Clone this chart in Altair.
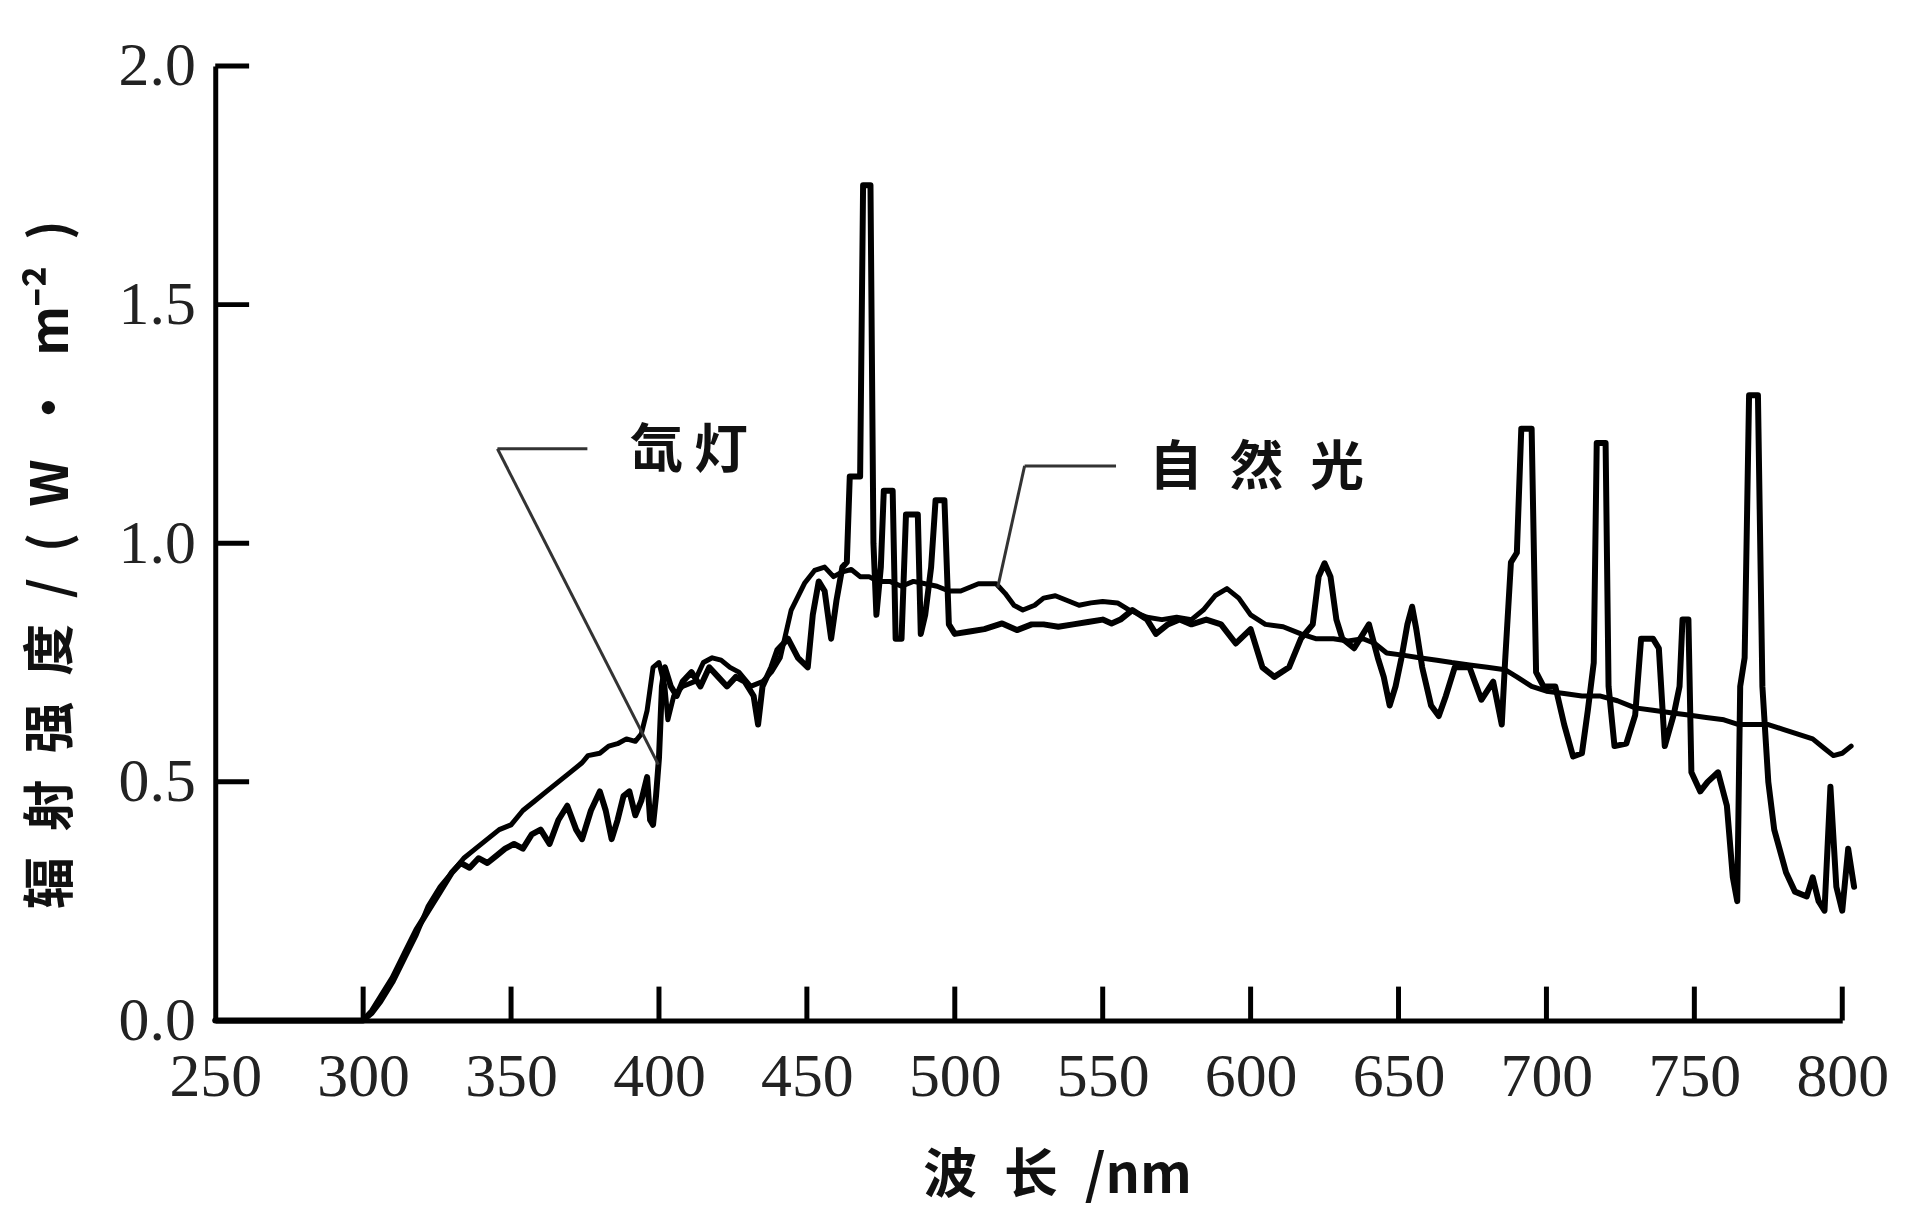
import altair as alt
import pandas as pd

# ---------------- data ----------------
xenon_wl = [250, 298, 300, 303, 306, 310, 314, 318, 322, 326, 330, 333, 336, 339, 342, 345, 348, 351, 354,
            357, 360, 363, 366, 369, 372, 374, 377, 380, 382, 384, 386, 388, 390, 392, 394, 396, 397, 398,
            399, 400, 401, 402, 404, 406, 408, 411, 414, 417, 420, 423, 426, 429, 432, 433.5, 435, 438,
            440, 443.6, 447, 450.3, 452, 454, 456, 458.2, 460, 462, 463.5, 464.5, 468, 469, 471.5, 472.5,
            473.5, 475, 476, 479, 480, 482, 483.5, 487.5, 488.5, 490, 492, 493.5, 496.5, 498, 500, 505,
            510, 516, 521, 526, 530, 535, 540, 545, 550, 553, 556, 560, 565, 568, 572, 576, 580, 585, 590,
            595, 600, 604, 608, 613, 617, 621, 623, 625, 627, 629, 631, 635, 640, 643, 645, 647, 649, 651,
            653, 654.6, 656, 658, 661, 663.6, 666, 669, 674, 678, 682, 684.9, 686, 688, 690, 691.5, 695,
            696.5, 699, 703, 706, 709, 712, 714, 716, 717, 720, 721, 723, 727, 730, 732, 736, 738, 740,
            743, 745, 746, 748, 749, 752, 754.5, 758, 761, 763, 764.5, 765.5, 767, 768.5, 771.5, 773, 775,
            777, 781, 784, 788, 790, 792, 794, 796, 798, 800, 802, 804]
xenon_val = [0, 0, 0.0, 0.02, 0.05, 0.09, 0.14, 0.19, 0.23, 0.27, 0.31, 0.33, 0.32, 0.34, 0.33, 0.345, 0.36,
             0.37, 0.36, 0.39, 0.40, 0.37, 0.42, 0.45, 0.40, 0.38, 0.44, 0.48, 0.44, 0.38, 0.42, 0.47, 0.48,
             0.43, 0.46, 0.51, 0.42, 0.41, 0.47, 0.55, 0.70, 0.74, 0.70, 0.68, 0.71, 0.73, 0.70, 0.74, 0.72,
             0.70, 0.72, 0.71, 0.68, 0.62, 0.70, 0.74, 0.776, 0.80, 0.76, 0.74, 0.85, 0.92, 0.90, 0.80, 0.88,
             0.95, 0.96, 1.14, 1.14, 1.75, 1.75, 1.0, 0.85, 0.95, 1.11, 1.11, 0.80, 0.80, 1.06, 1.06, 0.81,
             0.85, 0.95, 1.09, 1.09, 0.83, 0.81, 0.815, 0.82, 0.832, 0.818, 0.83, 0.83, 0.825, 0.83, 0.835,
             0.84, 0.832, 0.84, 0.86, 0.84, 0.81, 0.83, 0.84, 0.83, 0.84, 0.83, 0.79, 0.82, 0.74, 0.72, 0.74,
             0.80, 0.83, 0.93, 0.958, 0.93, 0.84, 0.80, 0.78, 0.83, 0.76, 0.72, 0.66, 0.70, 0.76, 0.83,
             0.867, 0.82, 0.74, 0.66, 0.638, 0.68, 0.74, 0.74, 0.672, 0.71, 0.62, 0.75, 0.96, 0.98, 1.24,
             1.24, 0.73, 0.70, 0.70, 0.62, 0.553, 0.56, 0.65, 0.75, 1.21, 1.21, 0.70, 0.575, 0.58, 0.64,
             0.80, 0.80, 0.78, 0.575, 0.64, 0.70, 0.84, 0.84, 0.52, 0.48, 0.50, 0.52, 0.45, 0.30, 0.25,
             0.70, 0.76, 1.31, 1.31, 0.70, 0.50, 0.40, 0.31, 0.27, 0.26, 0.30, 0.25, 0.23, 0.49, 0.28,
             0.23, 0.36, 0.28]

natural_wl = [250, 298, 300, 303, 306, 310, 314, 318, 322, 326, 330, 334, 338, 342, 346, 350, 354, 358, 362,
              366, 370, 374, 376, 380, 383, 386, 389, 392, 394, 396, 398, 400, 402, 403, 405, 408, 412, 415,
              418, 421, 424, 427, 431, 435, 438, 441, 444.7, 449.2, 452.6, 456, 459, 462, 465, 468, 471,
              474, 478, 482, 486, 490, 494, 498, 502, 508, 514, 517, 520, 523, 527, 530, 534, 538, 542, 546,
              550, 555, 559, 565, 570, 575, 580, 584, 588, 592, 596, 600, 605, 611, 617, 622, 628, 633, 638,
              642, 646, 652, 657, 663, 668, 674, 680, 686, 690, 695, 700, 706, 712, 718, 724, 730, 736, 742,
              748, 754, 760, 765, 770, 775, 780, 785, 790, 794, 797, 800, 803]
natural_val = [0, 0, 0.0, 0.015, 0.04, 0.08, 0.13, 0.18, 0.24, 0.28, 0.31, 0.34, 0.36, 0.38, 0.40, 0.41,
               0.44, 0.46, 0.48, 0.50, 0.52, 0.54, 0.555, 0.56, 0.575, 0.58, 0.59, 0.585, 0.60, 0.65, 0.74,
               0.75, 0.70, 0.63, 0.68, 0.70, 0.71, 0.75, 0.76, 0.755, 0.74, 0.73, 0.70, 0.71, 0.73, 0.76,
               0.86, 0.916, 0.943, 0.95, 0.93, 0.94, 0.945, 0.93, 0.93, 0.92, 0.92, 0.91, 0.92, 0.915, 0.91,
               0.90, 0.90, 0.915, 0.915, 0.895, 0.87, 0.86, 0.87, 0.885, 0.89, 0.88, 0.87, 0.875, 0.878,
               0.875, 0.86, 0.845, 0.84, 0.845, 0.84, 0.86, 0.89, 0.905, 0.885, 0.85, 0.83, 0.825, 0.81, 0.80,
               0.80, 0.795, 0.80, 0.79, 0.77, 0.765, 0.76, 0.755, 0.75, 0.745, 0.74, 0.735, 0.72, 0.70, 0.69,
               0.685, 0.68, 0.68, 0.67, 0.655, 0.65, 0.645, 0.64, 0.635, 0.63, 0.62, 0.62, 0.62, 0.61, 0.60,
               0.59, 0.57, 0.555, 0.56, 0.575]

x_ticks = [300, 350, 400, 450, 500, 550, 600, 650, 700, 750, 800]
y_ticks = [0.5, 1.0, 1.5, 2.0]

label_text = ["氙\u2009灯", "自\u2002然\u2002光"]
label_x = [410, 602]
label_y = [1.192, 1.155]

# annotation leader lines (start / end in data units)
lead_x1 = [345.4, 345.4, 523.6, 523.6]
lead_y1 = [1.198, 1.198, 1.162, 1.162]
lead_x2 = [375.8, 399.8, 554.5, 514.5]
lead_y2 = [1.198, 0.536, 1.162, 0.907]

# ---------------- chart ----------------
W, H = 1633, 958
FONT_NUM = "Liberation Serif"
FONT_CJK = "Noto Sans CJK SC"
SP = "\u2002"

df_x = pd.DataFrame({"wl": xenon_wl, "v": xenon_val})
df_n = pd.DataFrame({"wl": natural_wl, "v": natural_val})

xs = alt.Scale(domain=[250, 800], nice=False, zero=False)
ys = alt.Scale(domain=[0, 2.0], nice=False, zero=False)

x_axis = alt.Axis(values=[250] + x_ticks, format=".0f", ticks=False, grid=False,
                  domainColor="#000", domainWidth=5, labelFont=FONT_NUM, labelFontSize=62,
                  labelColor="#222", labelPadding=26, labelFlush=False,
                  title="波" + SP + "长" + SP + "/nm", titleFont=FONT_CJK, titleFontSize=54,
                  titleFontWeight="bold", titleColor="#111", titleX=845, titleY=157,
                  titleBaseline="middle", titleAlign="center")
y_axis = alt.Axis(values=[0.0] + y_ticks, format=".1f", ticks=False, grid=False,
                  domainColor="#000", domainWidth=5, labelFont=FONT_NUM, labelFontSize=62,
                  labelColor="#222", labelPadding=20, labelFlush=False, labelBaseline="middle",
                  title=SP.join(["辐", "射", "强", "度", "/", "(", "W", "·", "m⁻²", ")"]),
                  titleFont=FONT_CJK, titleFontSize=52,
                  titleFontWeight="bold", titleColor="#111", titleX=-164, titleY=500,
                  titleBaseline="middle", titleAlign="center", titleAngle=-90)

X = lambda f: alt.X(f, scale=xs, axis=x_axis)
Y = lambda f: alt.Y(f, scale=ys, axis=y_axis)

nat = alt.Chart(df_n).mark_line(color="#000", strokeWidth=5, strokeJoin="round", strokeCap="round").encode(
    x=X("wl:Q"), y=Y("v:Q"))
xen = alt.Chart(df_x).mark_line(color="#000", strokeWidth=6, strokeJoin="round", strokeCap="round").encode(
    x=X("wl:Q"), y=Y("v:Q"))

ytick = alt.Chart(pd.DataFrame({"t": y_ticks})).mark_rule(color="#000", strokeWidth=5).encode(
    y=Y("t:Q"), x=alt.value(0), x2=alt.value(34))
xtick = alt.Chart(pd.DataFrame({"t": x_ticks})).mark_rule(color="#000", strokeWidth=5).encode(
    x=X("t:Q"), y=alt.value(H), y2=alt.value(H - 34))

leads = alt.Chart(pd.DataFrame({"x1": lead_x1, "y1": lead_y1, "x2": lead_x2, "y2": lead_y2})).mark_rule(
    color="#333", strokeWidth=3).encode(
    x=X("x1:Q"), y=Y("y1:Q"), x2="x2:Q", y2="y2:Q")

labels = alt.Chart(pd.DataFrame({"x": label_x, "y": label_y, "t": label_text})).mark_text(
    font=FONT_CJK, fontSize=54, fontWeight="bold", color="#111", align="center", baseline="middle").encode(
    x=X("x:Q"), y=Y("y:Q"), text="t:N")

chart = alt.layer(nat, xen, ytick, xtick, leads, labels).properties(
    width=W, height=H,
    autosize=alt.AutoSizeParams(type="none"),
    padding={"left": 208, "top": 56, "right": 70, "bottom": 188},
    background="white",
).configure_view(stroke=None)

chart.save("out.html", embed_options={"renderer": "svg", "actions": False})
